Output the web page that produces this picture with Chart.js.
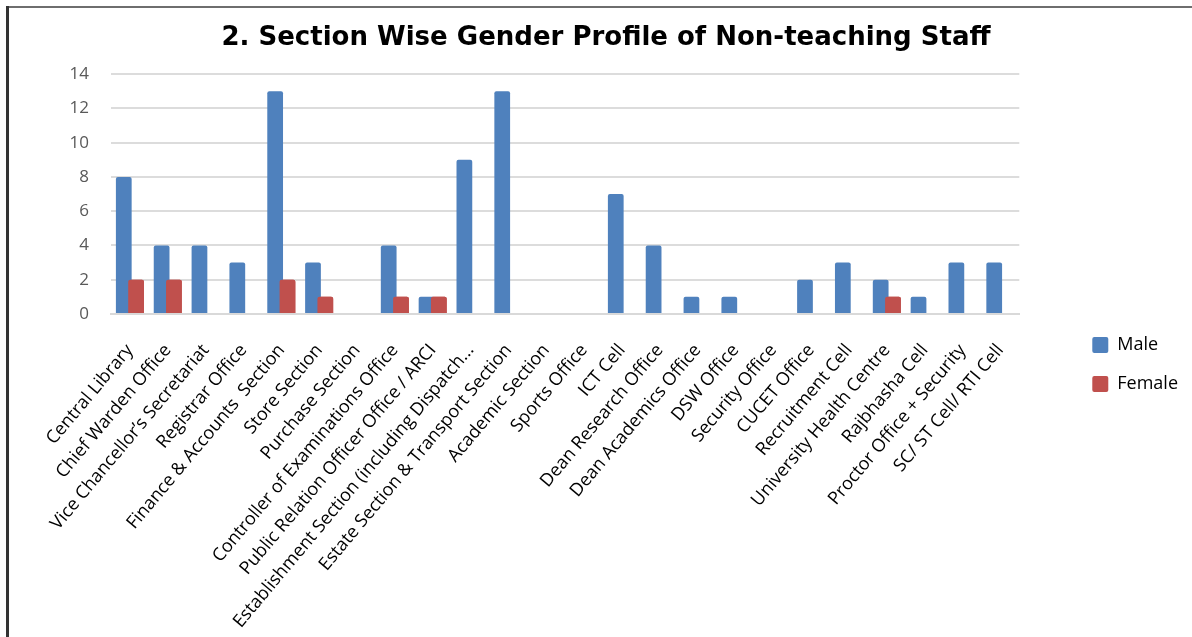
<!DOCTYPE html>
<html>
<head>
<meta charset="utf-8">
<title>Section Wise Gender Profile of Non-teaching Staff</title>
<script src="https://cdn.jsdelivr.net/npm/chart.js@4/dist/chart.umd.min.js"></script>
<style>
  body { margin: 0; background: #fff; }
  canvas { display: block; }
</style>
</head>
<body>
<canvas id="myChart" width="1192" height="637"></canvas>
<script>
'use strict'
// data
var sections = [
    'Central Library',
    'Chief Warden Office',
    'Vice Chancellor\u2019s Secretariat',
    'Registrar Office',
    'Finance & Accounts  Section',
    'Store Section',
    'Purchase Section',
    'Controller of Examinations Office',
    'Public Relation Officer Office / ARCI',
    'Establishment Section (including Dispatch...',
    'Estate Section & Transport Section',
    'Academic Section',
    'Sports Office',
    'ICT Cell',
    'Dean Research Office',
    'Dean Academics Office',
    'DSW Office',
    'Security Office',
    'CUCET Office',
    'Recruitment Cell',
    'University Health Centre',
    'Rajbhasha Cell',
    'Proctor Office + Security',
    'SC/ ST Cell/ RTI Cell'
];
var maleStaff = [8, 4, 4, 3, 13, 3, 0, 4, 1, 9, 13, 0, 0, 7, 4, 1, 1, 0, 2, 3, 2, 1, 3, 3];
var femaleStaff = [2, 2, 0, 0, 2, 1, 0, 1, 1, 0, 0, 0, 0, 0, 0, 0, 0, 0, 0, 0, 1, 0, 0, 0];
var yTicks = [0, 2, 4, 6, 8, 10, 12, 14];

var font = "'Open Sans', 'Noto Sans', sans-serif";

// border of the chart frame (top and left edge)
var framePlugin = {
    id: 'frame',
    beforeDraw: function (chart) {
        var ctx = chart.ctx;
        ctx.save();
        ctx.fillStyle = '#ffffff';
        ctx.fillRect(0, 0, chart.width, chart.height);
        ctx.strokeStyle = '#6e6e6e';
        ctx.lineWidth = 2;
        ctx.beginPath();
        ctx.moveTo(6, 7);
        ctx.lineTo(chart.width, 7);
        ctx.stroke();
        ctx.strokeStyle = '#333333';
        ctx.lineWidth = 3;
        ctx.beginPath();
        ctx.moveTo(7.5, 6);
        ctx.lineTo(7.5, chart.height);
        ctx.stroke();
        ctx.restore();
    }
};

// female bars overlap the male ones, so paint them again on top
var femaleOnTop = {
    id: 'femaleOnTop',
    afterDatasetsDraw: function (chart) {
        var meta = chart.getDatasetMeta(1);
        meta.data.forEach(function (bar) {
            bar.draw(chart.ctx);
        });
    }
};

var ctx = document.getElementById('myChart').getContext('2d');
var chart = new Chart(ctx, {
    type: 'bar',
    data: {
        labels: sections,
        datasets: [{
            label: 'Male',
            data: maleStaff,
            backgroundColor: '#4f81bd',
            borderWidth: 0,
            borderRadius: { topLeft: 2, topRight: 2 },
            categoryPercentage: 0.65,
            barPercentage: 1.28
        }, {
            label: 'Female',
            data: femaleStaff,
            backgroundColor: '#c0504d',
            borderWidth: 0,
            borderRadius: { topLeft: 2, topRight: 2 },
            categoryPercentage: 0.65,
            barPercentage: 1.28
        }]
    },
    options: {
        responsive: false,
        devicePixelRatio: 1,
        animation: false,
        layout: {
            padding: { left: 24, right: 4, top: 0, bottom: 4 }
        },
        plugins: {
            title: {
                display: true,
                text: '2. Section Wise Gender Profile of Non-teaching Staff',
                color: '#000000',
                font: { family: "'DejaVu Sans', sans-serif", size: 26, weight: 'bold' },
                padding: { top: 23, bottom: 20 }
            },
            legend: {
                position: 'right',
                title: {
                    display: true,
                    text: '',
                    font: { size: 10, lineHeight: 1 },
                    padding: { top: 86, bottom: 0 }
                },
                labels: {
                    color: '#000000',
                    font: { family: font, size: 18 },
                    boxWidth: 16,
                    boxHeight: 16,
                    padding: 21,
                    useBorderRadius: true,
                    borderRadius: 2
                }
            },
            tooltip: { enabled: false }
        },
        scales: {
            x: {
                grid: { display: false },
                border: { color: '#d9d9d9', width: 2 },
                ticks: {
                    autoSkip: false,
                    minRotation: 50,
                    maxRotation: 50,
                    padding: 18,
                    color: '#000000',
                    font: { family: font, size: 18 }
                },
                afterFit: function (scale) {
                    scale.height = 319;
                }
            },
            y: {
                min: 0,
                max: 14,
                afterBuildTicks: function (scale) {
                    scale.ticks = yTicks.map(function (v) { return { value: v }; });
                },
                grid: { color: '#dcdcdc', lineWidth: 2, drawTicks: false },
                border: { display: false },
                ticks: {
                    padding: 22,
                    color: '#595959',
                    font: { family: font, size: 17 }
                },
                afterFit: function (scale) {
                    scale.width = 87;
                }
            },
            // empty axis that only keeps the gap between plot and legend
            yGap: {
                position: 'right',
                display: true,
                grid: { display: false },
                border: { display: false },
                ticks: { display: false },
                afterFit: function (scale) {
                    scale.width = 52;
                }
            }
        }
    },
    plugins: [framePlugin, femaleOnTop]
});
</script>
</body>
</html>
